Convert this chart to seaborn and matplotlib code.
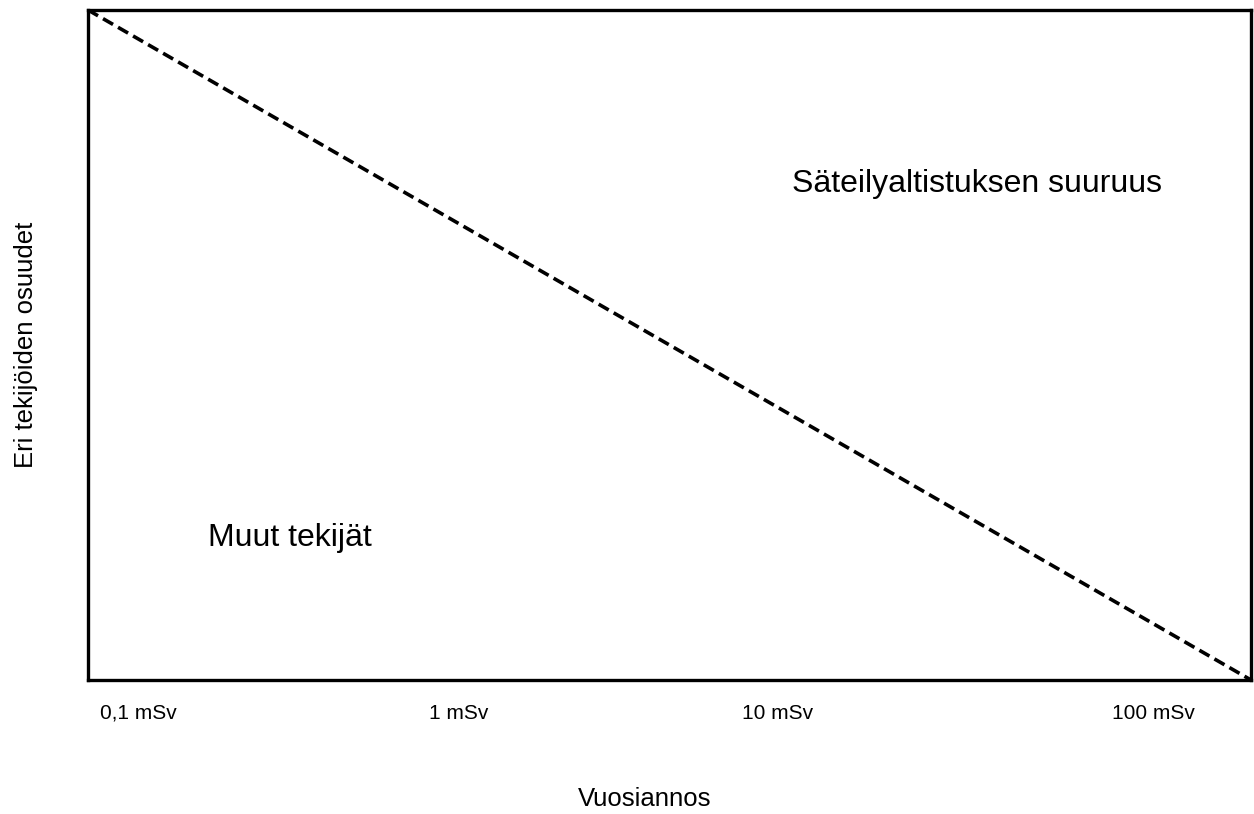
import numpy as np
import pandas as pd
import matplotlib.pyplot as plt
import seaborn as sns

# Schematic data: share of radiation exposure vs. annual dose
share_x = [0.0, 1.0]
share_y = [1.0, 0.0]
tick_pos = [0.043, 0.319, 0.593, 0.916]
tick_labels = ['0,1 mSv', '1 mSv', '10 mSv', '100 mSv']

df = pd.DataFrame({'x': share_x, 'y': share_y})

sns.set_style("white")
plt.rcParams['font.family'] = ['Liberation Sans', 'DejaVu Sans']
plt.rcParams['text.color'] = 'black'
plt.rcParams['axes.labelcolor'] = 'black'
plt.rcParams['xtick.color'] = 'black'

fig = plt.figure(figsize=(12.54, 8.14), dpi=100)
ax = fig.add_axes([88 / 1254, 134 / 814, 1163 / 1254, 670 / 814])

sns.lineplot(data=df, x='x', y='y', ax=ax, color='black', linewidth=2.6,
             dashes=False)
ax.lines[0].set_dashes([3.2, 1.6])

ax.set_xlim(0, 1)
ax.set_ylim(0, 1)
ax.set_xticks(tick_pos)
ax.set_xticklabels(tick_labels, fontsize=15)
ax.set_yticks([])
ax.tick_params(axis='x', length=0, pad=17)

for s in ax.spines.values():
    s.set_visible(True)
    s.set_color('black')
    s.set_linewidth(2.4)

ax.text(0.605, 0.74, 'Säteilyaltistuksen suuruus', fontsize=23,
        transform=ax.transAxes, va='center', ha='left')
ax.text(0.103, 0.212, 'Muut tekijät', fontsize=23,
        transform=ax.transAxes, va='center', ha='left')

ax.set_xlabel('Vuosiannos', fontsize=18.5)
ax.xaxis.set_label_coords(0.479, -0.16)
ax.set_ylabel('Eri tekijöiden osuudet', fontsize=18.5, labelpad=36)

fig.savefig('out.png', dpi=100)
